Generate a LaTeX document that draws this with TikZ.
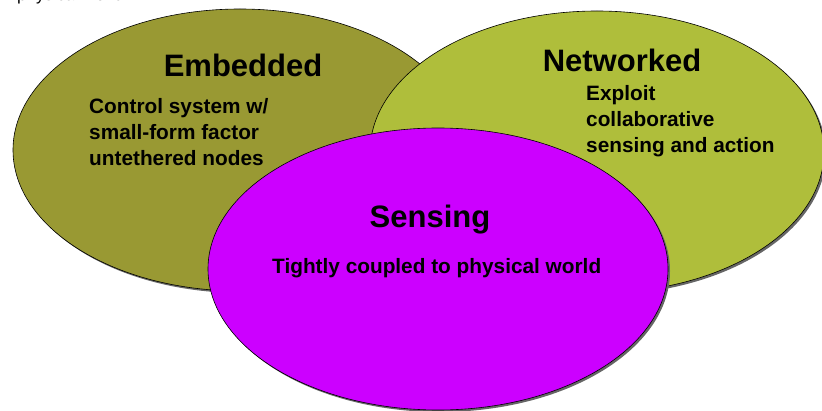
\documentclass[tikz,border=0pt]{standalone}
\usepackage{fontspec}
\setmainfont{Liberation Sans}
\usetikzlibrary{shapes.geometric}
\usetikzlibrary{shadows}
\definecolor{embcol}{RGB}{153,153,51}
\definecolor{netcol}{RGB}{175,190,59}
\definecolor{sencol}{RGB}{204,0,255}
\tikzset{
  area/.style={ellipse,draw=black,line width=0.6pt,inner sep=0pt,
               minimum width=454pt,minimum height=282pt,
               drop shadow={shadow xshift=2pt,shadow yshift=-2pt,
                            fill=black!60,opacity=1}},
  title/.style={anchor=base,inner sep=0pt,
                font=\fontsize{31}{37}\selectfont\bfseries},
  blurb/.style={anchor=north west,inner sep=0pt,align=left,
                font=\fontsize{20.8}{26}\selectfont\bfseries},
  cuttext/.style={anchor=base west,inner sep=0pt,
                  font=\fontsize{17}{20}\selectfont},
}
\begin{document}
\begin{tikzpicture}[x=1pt,y=-1pt]
    \useasboundingbox (0,0) rectangle (822,411);
    \clip (0,0) rectangle (822,411);

    % Text cut off by the top edge
    \node[cuttext] (top) at (-1,1) {in physical world};

    % Areas
    \node[area,fill=embcol] (emb) at (240,150) {};
    \node[area,fill=netcol] (net) at (597,152) {};
    \node[area,fill=sencol,minimum width=460pt] (sen) at (438,269) {};

    % Titles
    \node[title] (embt) at (243,77)  {Embedded};
    \node[title] (nett) at (622,72)  {Networked};
    \node[title] (sent) at (430,228) {Sensing};

    % Descriptions
    \node[blurb] (embd) at (89,98)
        {Control system w/\\small-form factor\\untethered nodes};
    \node[blurb] (netd) at (586,85)
        {Exploit\\collaborative\\sensing and action};
    \node[blurb,anchor=base west] (send) at (272,274)
        {Tightly coupled to physical world};
\end{tikzpicture}
\end{document}
